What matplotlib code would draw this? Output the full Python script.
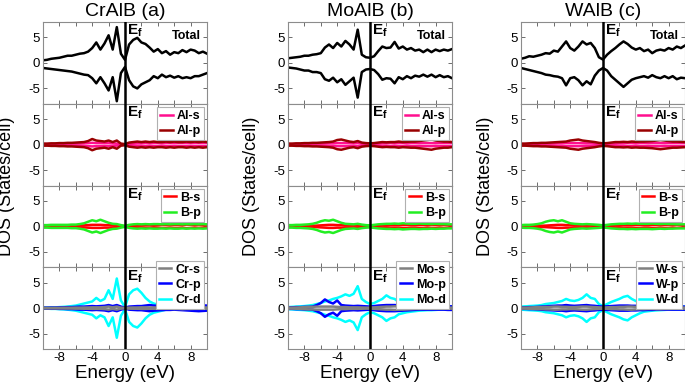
import matplotlib
matplotlib.use('Agg')
import matplotlib.pyplot as plt
import numpy as np

plt.rcParams['font.family'] = ['Liberation Sans', 'DejaVu Sans']
plt.rcParams['mathtext.fontset'] = 'custom'
plt.rcParams['mathtext.rm'] = 'Liberation Sans'
plt.rcParams['mathtext.bf'] = 'Liberation Sans:bold'

# energy grid (eV), 0.5 eV steps from -10 to 10
energy = np.linspace(-10, 10, 41)

titles = ['CrAlB (a)', 'MoAlB (b)', 'WAlB (c)']
metals = ['Cr', 'Mo', 'W']

# total DOS, spin up / spin down
cr_total_up = [0.5, 0.6, 0.8, 0.9, 1.0, 1.2, 1.4, 1.4, 1.6, 1.8, 1.9, 2.2, 2.9, 4.0, 2.6, 3.8, 5.4, 2.6, 7.0, 1.8,
               0.6, 3.6, 4.5, 4.9, 4.0, 3.7, 3.0, 2.2, 2.7, 1.9, 2.3, 1.6, 2.1, 1.9, 2.5, 2.1, 2.6, 2.4, 1.9, 2.2, 1.8]
cr_total_dn = [-1.0, -1.1, -1.2, -1.3, -1.4, -1.5, -1.6, -1.7, -1.9, -2.1, -2.3, -2.4, -3.0, -4.0, -2.8, -4.0, -5.4,
               -2.8, -7.5, -2.0, -0.8, -3.4, -4.6, -5.0, -4.2, -3.8, -3.4, -2.6, -3.0, -2.3, -2.8, -2.5, -2.9, -2.6,
               -3.0, -2.8, -3.0, -2.6, -2.6, -2.3, -2.0]
mo_total_up = [0.9, 1.0, 1.1, 1.2, 1.4, 1.4, 1.6, 1.7, 1.9, 3.0, 3.6, 2.9, 3.9, 3.2, 4.3, 3.6, 2.6, 6.5, 1.6, 1.1,
               1.0, 1.3, 2.3, 3.2, 2.9, 3.0, 4.1, 2.8, 3.2, 2.6, 2.9, 2.4, 2.6, 2.1, 2.6, 2.1, 2.6, 2.3, 2.6, 2.4, 2.7]
mo_total_dn = [-0.9, -1.0, -1.1, -1.3, -1.5, -1.5, -1.8, -1.8, -2.0, -3.2, -3.5, -2.9, -3.8, -3.2, -4.3, -3.6, -2.9,
               -6.8, -1.8, -1.3, -1.2, -1.4, -2.2, -3.3, -3.0, -3.1, -4.0, -2.8, -3.2, -2.6, -3.0, -2.5, -2.7, -2.3,
               -2.7, -2.3, -2.8, -2.4, -2.8, -2.6, -3.0]
w_total_up = [0.8, 1.0, 1.3, 1.2, 1.4, 1.6, 1.9, 1.8, 2.4, 2.2, 3.2, 4.2, 2.9, 2.4, 3.2, 4.2, 3.6, 3.9, 2.9, 1.1,
              0.65, 1.6, 2.3, 2.9, 3.6, 4.2, 3.7, 3.0, 2.6, 2.9, 2.3, 2.6, 1.9, 2.4, 2.6, 2.4, 2.9, 2.6, 3.2, 2.9, 3.4]
w_total_dn = [-1.0, -1.2, -1.4, -1.6, -1.8, -2.0, -2.3, -2.4, -2.6, -2.7, -3.0, -4.4, -3.0, -2.8, -3.4, -4.4, -3.6,
              -4.2, -2.5, -1.5, -1.0, -1.5, -2.6, -3.3, -4.0, -4.7, -4.0, -3.3, -3.0, -2.8, -2.6, -2.9, -2.4, -2.8,
              -3.0, -2.6, -3.0, -2.6, -3.2, -2.9, -3.0]

# partial DOS (spin up magnitude; spin down drawn as the mirror)
cr_al_s = [0.1, 0.1, 0.12, 0.12, 0.15, 0.15, 0.18, 0.2, 0.2, 0.22, 0.25, 0.3, 0.35, 0.3, 0.3, 0.28, 0.3, 0.25, 0.2,
           0.1, 0.05, 0.15, 0.2, 0.25, 0.25, 0.3, 0.25, 0.3, 0.3, 0.25, 0.3, 0.3, 0.28, 0.3, 0.3, 0.3, 0.28, 0.3, 0.3,
           0.3, 0.3]
cr_al_p = [0.2, 0.2, 0.25, 0.25, 0.3, 0.3, 0.35, 0.35, 0.4, 0.45, 0.5, 0.7, 1.1, 0.8, 0.7, 0.6, 0.8, 0.5, 0.8, 0.2,
           0.1, 0.4, 0.5, 0.6, 0.5, 0.6, 0.5, 0.6, 0.5, 0.5, 0.6, 0.5, 0.6, 0.5, 0.5, 0.6, 0.5, 0.6, 0.5, 0.6, 0.5]
cr_b_s = [0.05, 0.05, 0.06, 0.06, 0.08, 0.1, 0.1, 0.12, 0.15, 0.18, 0.2, 0.25, 0.3, 0.3, 0.3, 0.25, 0.25, 0.2, 0.15,
          0.08, 0.05, 0.1, 0.15, 0.2, 0.2, 0.25, 0.25, 0.2, 0.25, 0.3, 0.3, 0.25, 0.3, 0.3, 0.25, 0.35, 0.3, 0.25, 0.3,
          0.25, 0.25]
cr_b_p = [0.25, 0.25, 0.3, 0.3, 0.3, 0.3, 0.3, 0.35, 0.35, 0.45, 0.6, 0.9, 1.2, 1.0, 1.3, 1.0, 0.7, 0.5, 0.45, 0.25,
          0.1, 0.3, 0.4, 0.45, 0.4, 0.45, 0.4, 0.45, 0.45, 0.4, 0.45, 0.4, 0.45, 0.45, 0.4, 0.45, 0.4, 0.45, 0.4,
          0.45, 0.4]
cr_m_s = [0.05, 0.05, 0.05, 0.06, 0.06, 0.07, 0.08, 0.08, 0.1, 0.1, 0.12, 0.12, 0.15, 0.15, 0.15, 0.2, 0.3, 0.15, 0.3,
          0.1, 0.05, 0.1, 0.12, 0.12, 0.15, 0.15, 0.12, 0.12, 0.1, 0.1, 0.1, 0.12, 0.15, 0.15, 0.2, 0.15, 0.15, 0.12,
          0.12, 0.1, 0.1]
cr_m_p = [0.1, 0.1, 0.12, 0.12, 0.15, 0.15, 0.2, 0.2, 0.25, 0.3, 0.3, 0.35, 0.4, 0.35, 0.4, 0.45, 0.6, 0.4, 0.6, 0.3,
          0.1, 0.3, 0.35, 0.4, 0.4, 0.5, 0.6, 0.5, 0.45, 0.4, 0.35, 0.35, 0.3, 0.35, 0.4, 0.45, 0.5, 0.55, 0.6, 0.55,
          0.5]
cr_m_d = [0.1, 0.1, 0.15, 0.15, 0.2, 0.25, 0.3, 0.4, 0.5, 0.7, 0.9, 1.1, 1.3, 2.0, 1.4, 1.8, 3.5, 1.8, 5.8, 1.5,
          0.2, 2.7, 3.5, 3.8, 3.0, 2.0, 1.3, 0.9, 0.7, 0.5, 0.3, 0.25, 0.2, 0.18, 0.15, 0.12, 0.1, 0.1, 0.1, 0.1, 0.1]

mo_al_s = [0.1, 0.1, 0.12, 0.12, 0.15, 0.15, 0.18, 0.2, 0.2, 0.22, 0.25, 0.25, 0.3, 0.3, 0.3, 0.28, 0.25, 0.3, 0.2,
           0.15, 0.12, 0.15, 0.2, 0.25, 0.25, 0.3, 0.25, 0.3, 0.3, 0.25, 0.3, 0.3, 0.28, 0.3, 0.3, 0.3, 0.28, 0.3, 0.3,
           0.3, 0.3]
mo_al_p = [0.2, 0.2, 0.25, 0.25, 0.3, 0.3, 0.35, 0.35, 0.4, 0.45, 0.5, 0.6, 0.9, 1.0, 0.8, 0.6, 0.5, 0.7, 0.4, 0.3,
           0.25, 0.3, 0.4, 0.5, 0.45, 0.5, 0.5, 0.6, 0.5, 0.55, 0.6, 0.6, 0.7, 0.8, 0.9, 1.0, 0.8, 0.7, 0.6, 0.6, 0.5]
mo_b_s = [0.05, 0.05, 0.06, 0.06, 0.08, 0.1, 0.12, 0.15, 0.2, 0.25, 0.3, 0.3, 0.25, 0.25, 0.2, 0.2, 0.2, 0.2, 0.15,
          0.1, 0.1, 0.12, 0.15, 0.2, 0.2, 0.25, 0.25, 0.25, 0.3, 0.3, 0.25, 0.25, 0.3, 0.3, 0.25, 0.3, 0.3, 0.25, 0.3,
          0.25, 0.25]
mo_b_p = [0.25, 0.25, 0.3, 0.3, 0.35, 0.4, 0.5, 0.7, 1.0, 1.2, 1.1, 1.3, 1.0, 0.7, 0.5, 0.45, 0.4, 0.5, 0.35, 0.25,
          0.2, 0.3, 0.4, 0.45, 0.5, 0.5, 0.55, 0.5, 0.6, 0.55, 0.5, 0.5, 0.55, 0.5, 0.5, 0.45, 0.5, 0.45, 0.45, 0.4,
          0.4]
mo_m_s = [0.1, 0.1, 0.12, 0.15, 0.2, 0.25, 0.25, 0.3, 0.3, 0.3, 0.3, 0.3, 0.25, 0.2, 0.2, 0.15, 0.15, 0.15, 0.12, 0.1,
          0.1, 0.15, 0.2, 0.25, 0.3, 0.3, 0.35, 0.3, 0.3, 0.25, 0.2, 0.15, 0.15, 0.12, 0.12, 0.1, 0.1, 0.1, 0.1, 0.1,
          0.1]
mo_m_p = [0.15, 0.15, 0.2, 0.2, 0.25, 0.25, 0.3, 0.6, 1.0, 1.7, 1.2, 0.9, 1.5, 0.6, 0.5, 0.45, 0.4, 0.45, 0.4, 0.35,
          0.3, 0.4, 0.5, 0.55, 0.6, 0.6, 0.6, 0.55, 0.5, 0.45, 0.4, 0.35, 0.3, 0.3, 0.3, 0.3, 0.3, 0.3, 0.3, 0.35, 0.35]
mo_m_d = [0.2, 0.25, 0.3, 0.35, 0.4, 0.5, 0.6, 0.8, 1.0, 1.3, 1.5, 1.8, 2.0, 2.3, 2.7, 2.4, 2.8, 4.3, 1.8, 1.2,
          0.8, 1.0, 1.4, 1.8, 2.5, 2.0, 1.8, 1.2, 1.0, 0.8, 0.7, 0.6, 0.5, 0.45, 0.4, 0.4, 0.35, 0.3, 0.3, 0.3, 0.3]

w_al_s = [0.1, 0.1, 0.12, 0.15, 0.15, 0.18, 0.2, 0.2, 0.22, 0.25, 0.25, 0.3, 0.3, 0.3, 0.3, 0.28, 0.25, 0.25, 0.2,
          0.15, 0.1, 0.15, 0.2, 0.2, 0.25, 0.25, 0.3, 0.3, 0.25, 0.3, 0.3, 0.28, 0.3, 0.3, 0.3, 0.28, 0.3, 0.3, 0.3,
          0.3, 0.3]
w_al_p = [0.2, 0.2, 0.25, 0.3, 0.3, 0.35, 0.35, 0.4, 0.45, 0.5, 0.55, 0.6, 0.8, 0.9, 1.0, 0.8, 0.7, 0.6, 0.5, 0.35,
          0.25, 0.3, 0.4, 0.5, 0.5, 0.55, 0.5, 0.6, 0.55, 0.6, 0.6, 0.65, 0.7, 0.8, 0.9, 0.8, 0.7, 0.6, 0.6, 0.55, 0.5]
w_b_s = [0.05, 0.05, 0.06, 0.08, 0.1, 0.12, 0.15, 0.2, 0.25, 0.3, 0.3, 0.25, 0.25, 0.2, 0.2, 0.2, 0.2, 0.2, 0.15,
         0.1, 0.08, 0.12, 0.15, 0.2, 0.2, 0.25, 0.25, 0.25, 0.3, 0.3, 0.25, 0.25, 0.3, 0.3, 0.25, 0.3, 0.3, 0.25, 0.3,
         0.25, 0.25]
w_b_p = [0.25, 0.3, 0.3, 0.35, 0.45, 0.6, 0.9, 1.1, 1.2, 1.0, 1.2, 0.9, 0.6, 0.5, 0.45, 0.4, 0.45, 0.4, 0.35, 0.3,
         0.2, 0.3, 0.4, 0.45, 0.5, 0.5, 0.55, 0.5, 0.55, 0.5, 0.5, 0.5, 0.55, 0.5, 0.45, 0.5, 0.45, 0.45, 0.4, 0.4, 0.4]
w_m_s = [0.1, 0.1, 0.12, 0.15, 0.2, 0.2, 0.25, 0.25, 0.3, 0.3, 0.25, 0.25, 0.2, 0.2, 0.25, 0.3, 0.3, 0.25, 0.2, 0.15,
         0.1, 0.15, 0.2, 0.2, 0.25, 0.25, 0.3, 0.3, 0.25, 0.2, 0.2, 0.15, 0.15, 0.2, 0.2, 0.15, 0.15, 0.12, 0.1, 0.1,
         0.1]
w_m_p = [0.15, 0.15, 0.2, 0.2, 0.25, 0.3, 0.35, 0.4, 0.45, 0.5, 0.5, 0.6, 0.5, 0.45, 0.5, 0.55, 0.6, 0.5, 0.45, 0.35,
         0.3, 0.35, 0.4, 0.45, 0.5, 0.5, 0.5, 0.45, 0.45, 0.4, 0.4, 0.35, 0.35, 0.3, 0.3, 0.3, 0.3, 0.3, 0.3, 0.3, 0.3]
w_m_d = [0.3, 0.35, 0.4, 0.45, 0.5, 0.6, 0.8, 0.9, 1.0, 1.2, 1.4, 1.8, 1.5, 1.4, 1.6, 2.0, 2.7, 2.0, 1.8, 0.8,
         0.4, 0.8, 1.2, 1.5, 1.8, 2.2, 2.4, 1.8, 1.4, 1.0, 0.7, 0.6, 0.5, 0.45, 0.4, 0.35, 0.3, 0.3, 0.3, 0.3, 0.3]

W, H = 685, 391
LW = 1.8
FRAME = '#8c8c8c'


def main():
    fig = plt.figure(figsize=(W / 100, H / 100), dpi=100)

    columns = [
        (cr_total_up, cr_total_dn, cr_al_s, cr_al_p, cr_b_s, cr_b_p, cr_m_s, cr_m_p, cr_m_d),
        (mo_total_up, mo_total_dn, mo_al_s, mo_al_p, mo_b_s, mo_b_p, mo_m_s, mo_m_p, mo_m_d),
        (w_total_up, w_total_dn, w_al_s, w_al_p, w_b_s, w_b_p, w_m_s, w_m_p, w_m_d),
    ]
    lefts = [43, 288, 521]
    width = 164
    top, bottom = 22, 349
    ph = (bottom - top) / 4

    for c, (left, data) in enumerate(zip(lefts, columns)):
        tot_up, tot_dn, al_s, al_p, b_s, b_p, m_s, m_p, m_d = data
        axes = []
        for i in range(4):
            y0 = top + (i + 1) * ph
            ax = fig.add_axes([left / W, 1 - y0 / H, width / W, ph / H])
            style_axis(ax, last=(i == 3))
            axes.append(ax)

        # total
        ax = axes[0]
        ax.plot(energy, tot_up, color='black', lw=LW)
        ax.plot(energy, tot_dn, color='black', lw=LW)
        ax.text(0.965, 0.9, 'Total', transform=ax.transAxes, ha='right', va='top',
                fontsize=9, fontweight='bold')

        # Al
        draw_partial(axes[1], [(al_s, '#ff0f8f', 'Al-s'), (al_p, '#990000', 'Al-p')])
        # B
        draw_partial(axes[2], [(b_s, '#ff0000', 'B-s'), (b_p, '#22ee22', 'B-p')])
        # metal
        mt = metals[c]
        draw_partial(axes[3], [(m_s, '#808080', mt + '-s'), (m_p, '#0000ff', mt + '-p'),
                               (m_d, '#00ffff', mt + '-d')], order=[2, 1, 0], anchor_y=1.12)

        for ax in axes:
            ax.axvline(0, color='black', lw=1.8, zorder=5)
            ax.text(0.25, 7.8, r'$\mathbf{E_f}$', fontsize=11, va='top', ha='left', zorder=6)

        axes[3].set_xlabel('Energy (eV)', fontsize=13.5, labelpad=1)
        fig.text((left + width / 2) / W, 1 - 12 / H, titles[c], ha='center', va='center', fontsize=14)
        fig.text((left - 36) / W, 1 - 186 / H, 'DOS (States/cell)', rotation=90,
                 ha='center', va='center', fontsize=13)

    fig.savefig('out.png', dpi=100)


def draw_partial(ax, curves, order=None, anchor_y=1.0):
    if order is None:
        order = list(range(len(curves)))
    handles = [None] * len(curves)
    for k in order:
        vals, color, label = curves[k]
        v = np.array(vals)
        h, = ax.plot(energy, v, color=color, lw=LW, label=label)
        ax.plot(energy, -v, color=color, lw=LW)
        handles[k] = h
    leg = ax.legend(handles=handles, loc='upper right', bbox_to_anchor=(1.0, anchor_y),
                    prop={'weight': 'bold', 'size': 9},
                    handlelength=1.0, handletextpad=0.3, labelspacing=0.25,
                    borderpad=0.25, borderaxespad=0.25, fancybox=False, framealpha=1)
    leg.get_frame().set_edgecolor('#b0b0b0')
    leg.get_frame().set_linewidth(0.8)
    leg.set_zorder(10)


def style_axis(ax, last):
    ax.set_xlim(-10, 10)
    ax.set_ylim(-8, 8)
    ax.set_xticks([-8, -4, 0, 4, 8])
    ax.set_xticks([-10, -6, -2, 2, 6, 10], minor=True)
    ax.set_yticks([-5, 0, 5])
    ax.tick_params(direction='in', top=True, right=True, length=3, width=0.6,
                   labelsize=9.5, color='#555555', pad=2)
    ax.tick_params(which='minor', direction='in', top=True, bottom=True, length=3, width=0.6, color='#555555')
    ax.set_yticklabels(['-5', '0', '5'])
    if last:
        ax.set_xticklabels(['-8', '-4', '0', '4', '8'])
    else:
        ax.set_xticklabels([])
    for s in ax.spines.values():
        s.set_color(FRAME)
        s.set_linewidth(0.8)


if __name__ == '__main__':
    main()
